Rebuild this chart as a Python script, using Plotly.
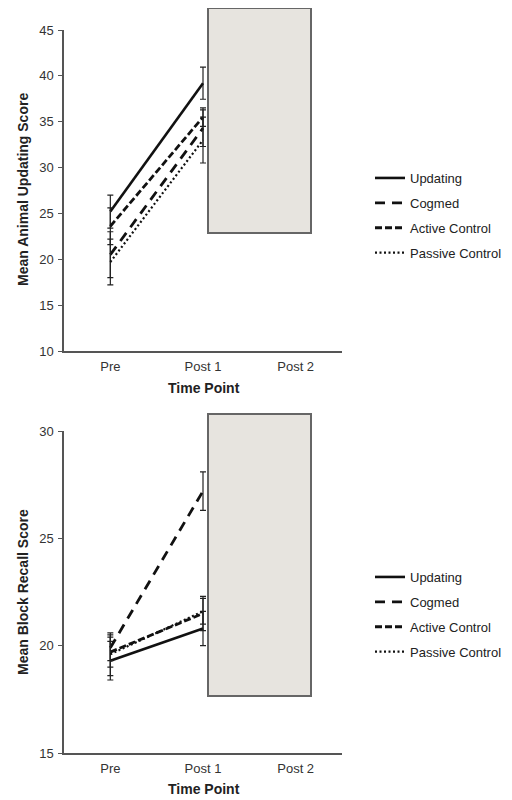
import plotly.graph_objects as go
from plotly.subplots import make_subplots

# ---- data ----
time_points = ["Pre", "Post 1", "Post 2"]
measured_points = ["Pre", "Post 1"]
groups = ["Updating", "Cogmed", "Active Control", "Passive Control"]

# Top panel: Mean Animal Updating Score
animal_updating = [25.2, 39.2]
animal_cogmed = [20.5, 34.3]
animal_active = [23.6, 35.5]
animal_passive = [19.7, 33.0]
animal_updating_err = [1.8, 1.75]
animal_cogmed_err = [2.5, 2.0]
animal_active_err = [2.0, 1.0]
animal_passive_err = [2.5, 2.5]

# Bottom panel: Mean Block Recall Score
block_updating = [19.3, 20.8]
block_cogmed = [19.9, 27.2]
block_active = [19.7, 21.5]
block_passive = [19.6, 21.6]
block_updating_err = [0.9, 0.8]
block_cogmed_err = [0.6, 0.9]
block_active_err = [0.7, 0.8]
block_passive_err = [1.0, 0.6]

top_ticks = [10, 15, 20, 25, 30, 35, 40, 45]
bottom_ticks = [15, 20, 25, 30]

# ---- styles ----
dashes = {"Updating": "solid", "Cogmed": "10px,7px", "Active Control": "7px,3px", "Passive Control": "2px,2.5px"}
widths = {"Updating": 2.6, "Cogmed": 2.8, "Active Control": 2.8, "Passive Control": 2.2}
FONT = "Liberation Sans, Arial, sans-serif"
PAGE_OFF = 8  # default body margin of the html page
W, H = 512 - PAGE_OFF, 800 - PAGE_OFF

fig = make_subplots(rows=2, cols=1)

top_means = [animal_updating, animal_cogmed, animal_active, animal_passive]
top_errs = [animal_updating_err, animal_cogmed_err, animal_active_err, animal_passive_err]
bot_means = [block_updating, block_cogmed, block_active, block_passive]
bot_errs = [block_updating_err, block_cogmed_err, block_active_err, block_passive_err]

for row, means, errs, leg in [(1, top_means, top_errs, "legend"), (2, bot_means, bot_errs, "legend2")]:
    for g, m, e in zip(groups, means, errs):
        fig.add_trace(go.Scatter(
            x=measured_points, y=m, mode="lines", name=g,
            line=dict(color="#111111", width=widths[g], dash=dashes[g]),
            error_y=dict(type="data", array=e, visible=True, color="#222222", thickness=1.2, width=3),
            legend=leg, legendgroup=f"{leg}-{g}",
        ), row=row, col=1)

def px_x(p):
    return (p - PAGE_OFF) / W

def px_y(p):
    return 1 - (p - PAGE_OFF) / H

xdom = [px_x(64), px_x(342)]
axis_common = dict(showline=True, linecolor="#555555", linewidth=1.5, showgrid=False, zeroline=False,
                   tickfont=dict(family=FONT, size=13, color="#333333"))

fig.update_layout(
    xaxis=dict(domain=xdom, type="category", categoryarray=time_points, categoryorder="array",
               range=[-0.5, 2.5], ticks="", tickvals=time_points, ticklabelstandoff=3, **axis_common),
    xaxis2=dict(domain=xdom, type="category", categoryarray=time_points, categoryorder="array",
                range=[-0.5, 2.5], ticks="", tickvals=time_points, ticklabelstandoff=3, **axis_common),
    yaxis=dict(domain=[px_y(351), px_y(30)], range=[10, 45], tickvals=top_ticks, ticks="outside",
               ticklen=4, tickcolor="#555555", ticklabelstandoff=2, **axis_common),
    yaxis2=dict(domain=[px_y(753), px_y(431)], range=[15, 30], tickvals=bottom_ticks, ticks="outside",
                ticklen=4, tickcolor="#555555", ticklabelstandoff=2, **axis_common),
)

TITLE_FONT = dict(family=FONT, size=14, color="#222222")
ann = dict(xref="paper", yref="paper", showarrow=False, font=TITLE_FONT, xanchor="center", yanchor="middle")
fig.update_layout(
    width=W, height=H,
    margin=dict(l=0, r=0, t=0, b=0, autoexpand=False),
    paper_bgcolor="white", plot_bgcolor="white",
    font=dict(family=FONT, size=13, color="#222222"),
    legend=dict(x=px_x(370), y=px_y(163), xanchor="left", yanchor="top", tracegroupgap=5,
                font=dict(family=FONT, size=13, color="#222222"), bgcolor="rgba(0,0,0,0)"),
    legend2=dict(x=px_x(370), y=px_y(562), xanchor="left", yanchor="top", tracegroupgap=5,
                 font=dict(family=FONT, size=13, color="#222222"), bgcolor="rgba(0,0,0,0)"),
    shapes=[
        dict(type="rect", xref="paper", yref="paper", x0=px_x(208), x1=px_x(311), y0=px_y(233), y1=px_y(8),
             fillcolor="#e7e4df", line=dict(color="#666666", width=2), layer="above"),
        dict(type="rect", xref="paper", yref="paper", x0=px_x(208), x1=px_x(311), y0=px_y(696), y1=px_y(414),
             fillcolor="#e7e4df", line=dict(color="#666666", width=2), layer="above"),
    ],
    annotations=[
        dict(text="<b>Time Point</b>", x=px_x(204), y=px_y(388), **ann),
        dict(text="<b>Time Point</b>", x=px_x(204), y=px_y(789), **ann),
        dict(text="<b>Mean Animal Updating Score</b>", x=px_x(23), y=px_y(190), textangle=-90, **ann),
        dict(text="<b>Mean Block Recall Score</b>", x=px_x(23), y=px_y(592), textangle=-90, **ann),
    ],
)

fig.write_html("out.html")
